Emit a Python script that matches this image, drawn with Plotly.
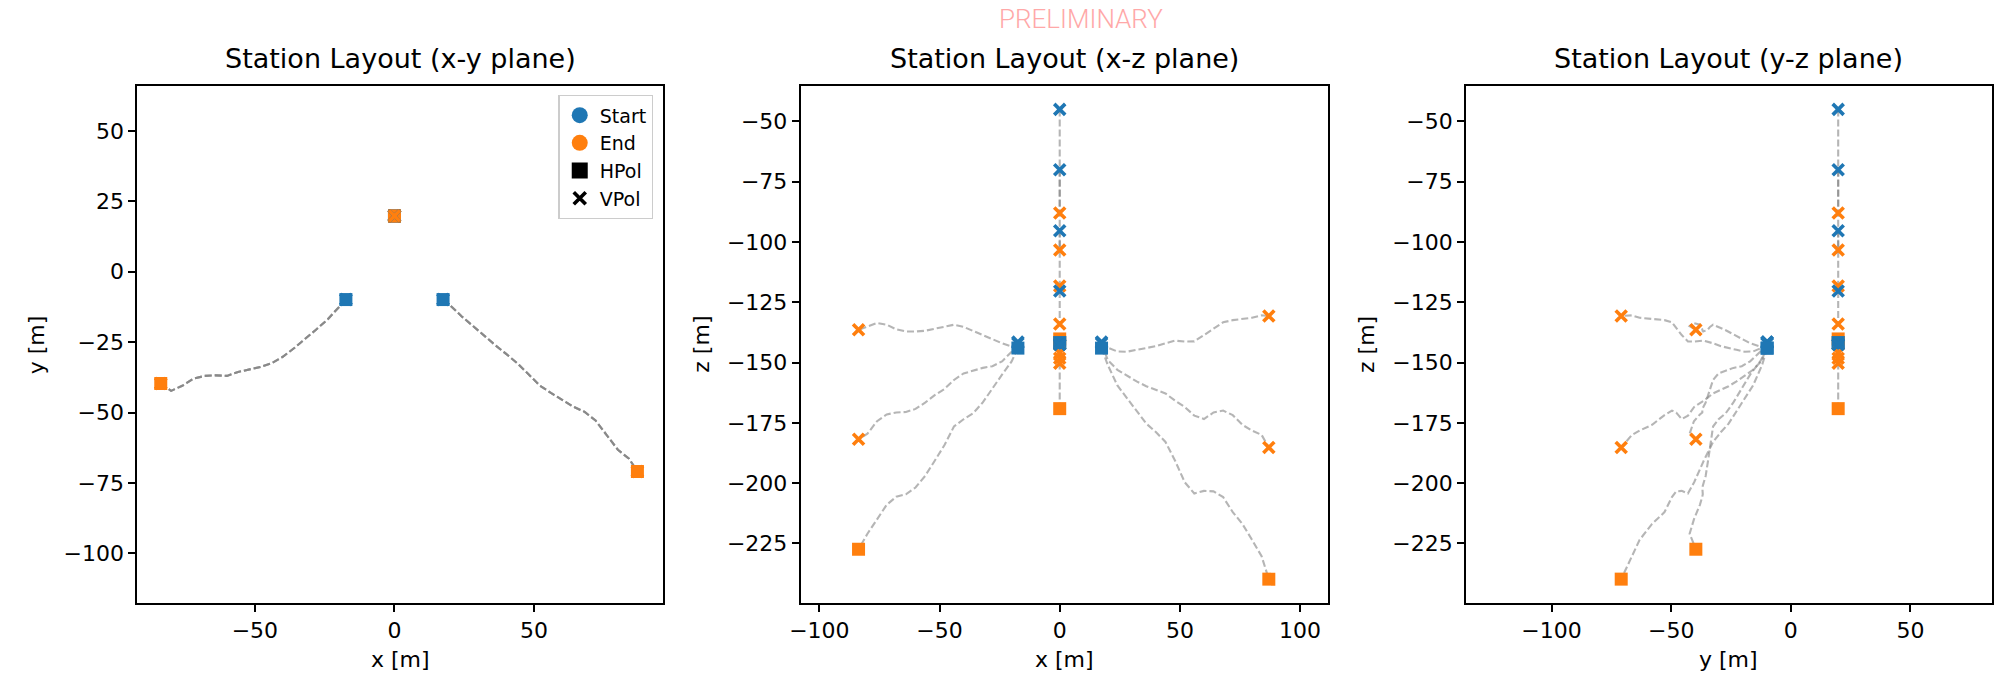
import plotly.graph_objects as go

W, H = 1996, 673
BLUE = "#1f77b4"
ORANGE = "#ff7f0e"
PATH_COLOR = "rgba(128,128,128,0.58)"
FONT = "DejaVu Sans"

# ---- Left helper string: shared horizontal track (m) ----
left_track_x = [-17.4, -20.0, -24.0, -28.0, -32.0, -36.0, -40.0, -44.0, -48.0,
                -52.0, -56.0, -60.0, -64.0, -68.0, -72.0, -76.0, -80.0, -83.7]
left_track_y = [-9.9, -12.8, -17.0, -20.5, -24.0, -27.2, -30.2, -32.5, -33.8,
                -34.6, -35.6, -37.0, -36.8, -37.0, -38.0, -40.5, -42.3, -39.7]
# depth along the track for each antenna on that string
left_vpol_upper_z = [-141.5, -143.3, -142.0, -140.3, -138.3, -136.6, -135.2, -134.3, -135.2,
                     -136.2, -136.8, -137.1, -137.1, -136.2, -134.3, -133.6, -134.9, -136.4]
left_vpol_lower_z = [-142.0, -145.5, -149.5, -151.5, -152.2, -153.5, -154.5, -157.2, -161.0,
                     -163.5, -166.6, -169.2, -170.5, -170.7, -171.5, -174.3, -179.5, -181.8]
left_hpol_z = [-144.0, -149.5, -155.0, -161.0, -166.5, -171.0, -173.5, -176.5, -184.3,
               -190.7, -197.0, -201.8, -204.6, -205.6, -209.0, -215.0, -221.0, -227.4]

# ---- Right helper string ----
right_track_x = [17.4, 20.0, 24.0, 28.0, 32.0, 36.0, 40.0, 44.0, 48.0, 52.0,
                 56.0, 60.0, 64.0, 68.0, 72.0, 76.0, 80.0, 84.0, 87.0]
right_track_y = [-9.9, -12.0, -15.8, -19.3, -22.7, -26.0, -29.2, -32.5, -36.4, -40.4,
                 -43.0, -45.6, -47.9, -49.7, -52.8, -58.0, -63.2, -66.4, -70.9]
right_vpol_upper_z = [-141.5, -143.8, -145.4, -145.5, -144.7, -144.0, -143.2, -142.0, -140.9, -141.3,
                      -141.2, -138.6, -135.8, -133.3, -132.4, -132.0, -131.4, -130.4, -130.7]
right_vpol_lower_z = [-142.0, -149.0, -153.0, -155.5, -157.8, -159.8, -161.3, -162.8, -165.8, -168.4,
                      -172.0, -173.4, -170.7, -169.9, -171.8, -175.8, -178.2, -180.0, -185.2]
right_hpol_z = [-144.0, -151.0, -159.5, -164.8, -170.0, -175.3, -178.8, -182.9, -190.7, -199.6,
                -204.3, -203.2, -203.4, -205.8, -212.0, -216.9, -223.5, -230.3, -239.8]

# ---- Power string (vertical, fixed x/y) ----
power_x = 0.0
power_y = 19.8
power_pol = ["V", "V", "V", "V", "H", "H", "V", "V", "V"]
power_start_z = [-45.0, -70.0, -95.3, -120.3, -141.7, -141.7, -142.5, -142.5, -142.5]
power_end_z = [-88.0, -103.3, -118.2, -134.0, -140.2, -169.1, -146.0, -148.2, -150.3]

antennas = []


def add_antenna(xs, ys, zs, pol):
    antennas.append({"x": xs, "y": ys, "z": zs, "pol": pol})


add_antenna(left_track_x, left_track_y, left_vpol_upper_z, "V")
add_antenna(left_track_x, left_track_y, left_vpol_lower_z, "V")
add_antenna(left_track_x, left_track_y, left_hpol_z, "H")
add_antenna(right_track_x, right_track_y, right_vpol_upper_z, "V")
add_antenna(right_track_x, right_track_y, right_vpol_lower_z, "V")
add_antenna(right_track_x, right_track_y, right_hpol_z, "H")
for pol, zs, ze in zip(power_pol, power_start_z, power_end_z):
    add_antenna([power_x, power_x], [power_y, power_y], [zs, ze], pol)

# panel definitions: (horizontal coord, vertical coord, title, x label, y label, ranges, ticks)
panels = [
    ("x", "y", "Station Layout (x-y plane)", "x [m]", "y [m]",
     [-92.1, 96.3], [-117.6, 65.9], [-50, 0, 50], [-100, -75, -50, -25, 0, 25, 50]),
    ("x", "z", "Station Layout (x-z plane)", "x [m]", "z [m]",
     [-107.8, 111.5], [-249.7, -35.3], [-100, -50, 0, 50, 100],
     [-225, -200, -175, -150, -125, -100, -75, -50]),
    ("y", "z", "Station Layout (y-z plane)", "y [m]", "z [m]",
     [-135.8, 84.1], [-249.7, -35.3], [-100, -50, 0, 50],
     [-250, -225, -200, -175, -150, -125, -100, -75, -50]),
]
# plot-area pixel boxes (left, right)
x_boxes = [(127, 656), (794, 1324), (1463, 1992)]
y_top, y_bot = 86, 603
ylabel_x = [26, 694, 1363]

fig = go.Figure()
annotations = []

for k, (a, b, title, xl, yl, xr, yr, xt, yt) in enumerate(panels, start=1):
    xa = "x" if k == 1 else f"x{k}"
    ya = "y" if k == 1 else f"y{k}"
    for ant in antennas:
        fig.add_trace(go.Scatter(
            x=ant[a], y=ant[b], mode="lines",
            line=dict(color=PATH_COLOR, width=2.1, dash="7px,3px"),
            xaxis=xa, yaxis=ya, showlegend=False, hoverinfo="skip"))
    mx, my, sym, col, size, lw = [], [], [], [], [], []
    for ant in antennas:
        for idx, c in ((0, BLUE), (-1, ORANGE)):
            mx.append(ant[a][idx])
            my.append(ant[b][idx])
            col.append(c)
            if ant["pol"] == "H":
                sym.append("square"); size.append(13); lw.append(0)
            else:
                sym.append("x-thin"); size.append(11); lw.append(3.6)
    fig.add_trace(go.Scatter(
        x=mx, y=my, mode="markers",
        marker=dict(symbol=sym, size=size, color=col, opacity=1,
                    line=dict(color=col, width=lw)),
        opacity=1,
        xaxis=xa, yaxis=ya, showlegend=False, hoverinfo="skip"))

    x0, x1 = x_boxes[k - 1]
    common = dict(showline=True, mirror=True, linecolor="black", linewidth=1.7,
                  ticks="outside", ticklen=7, tickwidth=1.7, tickcolor="black",
                  showgrid=False, zeroline=False,
                  tickfont=dict(family=FONT, size=22, color="black"))
    fig.update_layout({
        ("xaxis" if k == 1 else f"xaxis{k}"): dict(
            domain=[x0 / W, x1 / W], range=xr, tickvals=xt, anchor=ya, **common),
        ("yaxis" if k == 1 else f"yaxis{k}"): dict(
            domain=[1 - y_bot / H, 1 - y_top / H], range=yr, tickvals=yt, anchor=xa, **common),
    })
    cx = (x0 + x1) / 2 / W
    annotations.append(dict(text=title, x=cx, y=1 - 58 / H, xref="paper", yref="paper",
                            xanchor="center", yanchor="middle", showarrow=False,
                            font=dict(family=FONT, size=27, color="black")))
    annotations.append(dict(text=xl, x=cx, y=1 - 659 / H, xref="paper", yref="paper",
                            xanchor="center", yanchor="middle", showarrow=False,
                            font=dict(family=FONT, size=22, color="black")))
    annotations.append(dict(text=yl, x=ylabel_x[k - 1] / W, y=1 - (y_top + y_bot) / 2 / H,
                            xref="paper", yref="paper", xanchor="center", yanchor="middle",
                            textangle=-90, showarrow=False,
                            font=dict(family=FONT, size=22, color="black")))

annotations.append(dict(text="PRELIMINARY", x=1076 / W, y=1 - 19 / H, xref="paper", yref="paper",
                        xanchor="center", yanchor="middle", showarrow=False,
                        font=dict(family="Roboto", size=26, color="#ffa8a8", weight=300)))

# legend entries
fig.add_trace(go.Scatter(x=[None], y=[None], mode="markers", name="Start",
                         marker=dict(symbol="circle", size=16, color=BLUE)))
fig.add_trace(go.Scatter(x=[None], y=[None], mode="markers", name="End",
                         marker=dict(symbol="circle", size=16, color=ORANGE)))
fig.add_trace(go.Scatter(x=[None], y=[None], mode="markers", name="HPol",
                         marker=dict(symbol="square", size=16, color="black")))
fig.add_trace(go.Scatter(x=[None], y=[None], mode="markers", name="VPol",
                         marker=dict(symbol="x-thin", size=12, color="black",
                                     line=dict(color="black", width=3.6))))

fig.update_layout(
    width=W, height=H,
    margin=dict(l=0, r=0, t=0, b=0),
    paper_bgcolor="white", plot_bgcolor="white",
    annotations=annotations,
    showlegend=True,
    legend=dict(x=646 / W, y=1 - 95 / H, xanchor="right", yanchor="top",
                bgcolor="rgba(255,255,255,0.8)", bordercolor="#cccccc", borderwidth=1.3,
                font=dict(family=FONT, size=19, color="black"),
                itemsizing="trace", tracegroupgap=0),
)

fig.write_html("out.html")
